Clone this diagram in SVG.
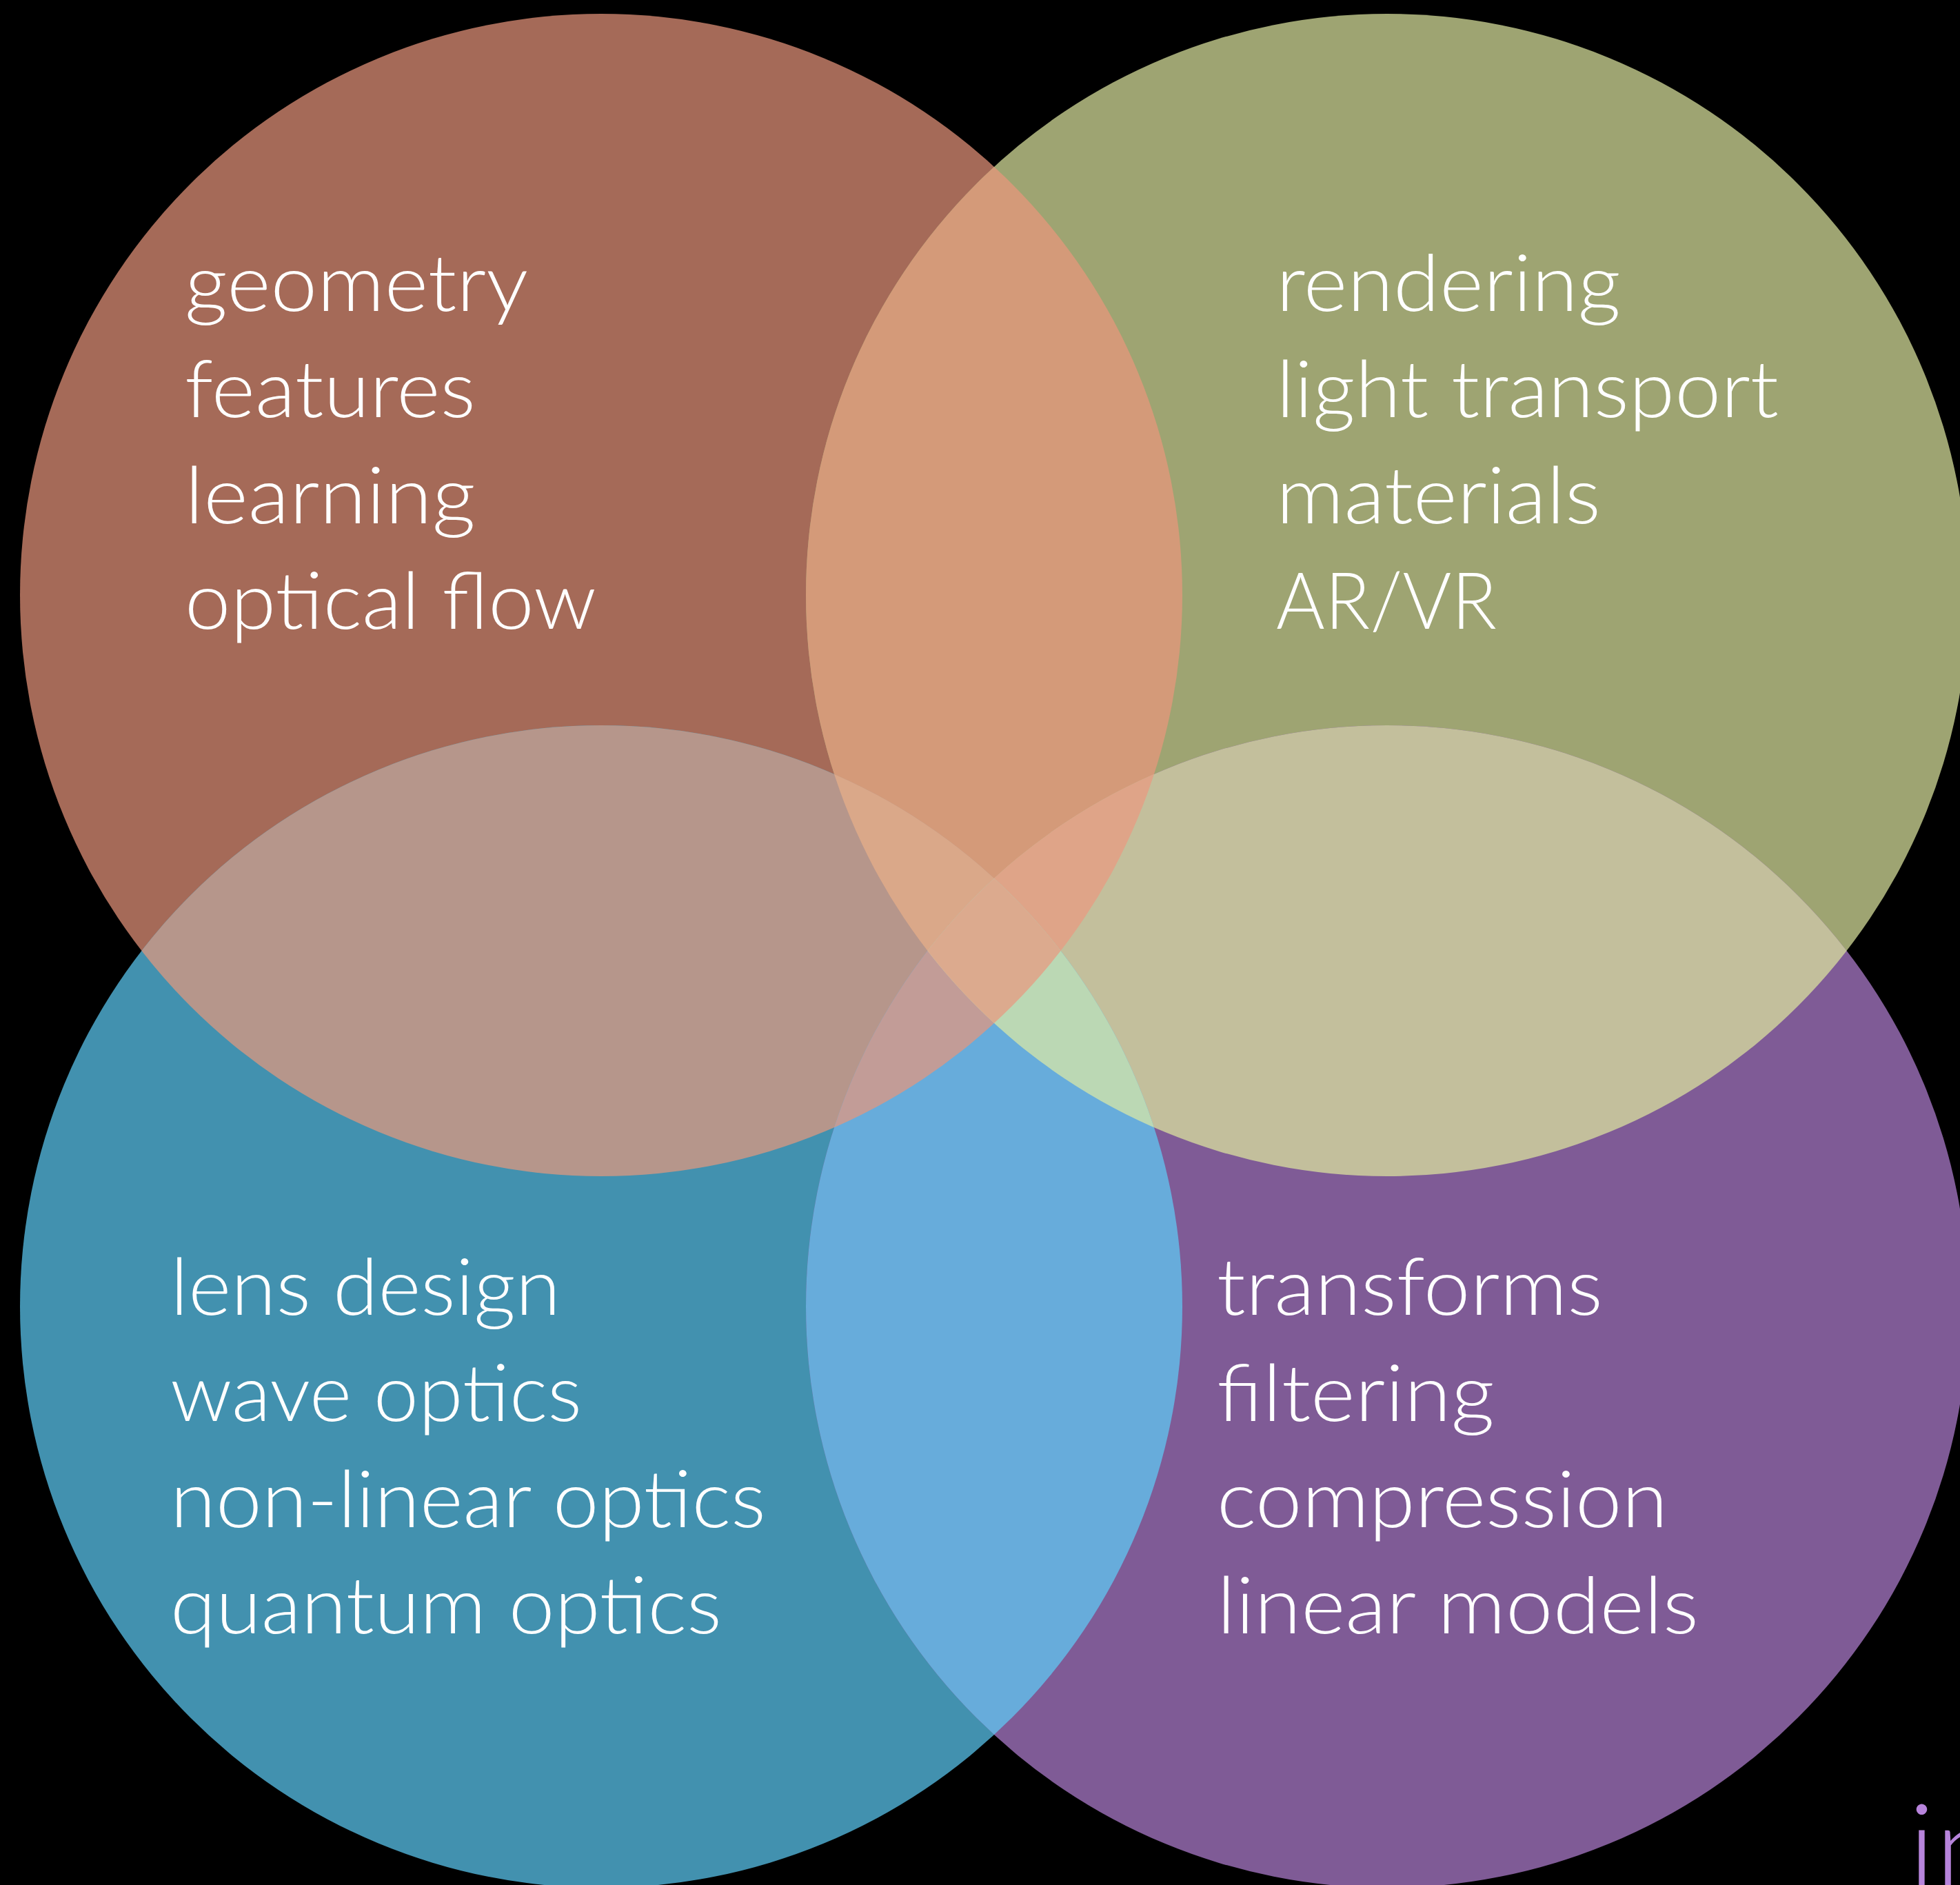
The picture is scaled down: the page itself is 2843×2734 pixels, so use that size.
<svg xmlns="http://www.w3.org/2000/svg" width="2843" height="2734" viewBox="0 0 2843 2734">
<style>
.lbl{font-family:"Lato","Open Sans","Liberation Sans",sans-serif;font-weight:300;font-size:115px;fill:#FFFFFF}
.tag{font-family:"Lato","Open Sans","Liberation Sans",sans-serif;font-weight:300;font-size:175px;fill:#B784DB}
</style>
<defs>
<clipPath id="clipTL"><circle cx="872" cy="863" r="843"/></clipPath>
<clipPath id="clipTR"><circle cx="2012" cy="863" r="843"/></clipPath>
<clipPath id="clipBL"><circle cx="872" cy="1895" r="843"/></clipPath>
<clipPath id="clipBR"><circle cx="2012" cy="1895" r="843"/></clipPath>
</defs>
<rect x="0" y="0" width="2843" height="2734" fill="#000000"/>
<g id="set-computer-vision"><circle cx="872" cy="863" r="843" fill="#A56A58"/></g>
<g id="set-graphics"><circle cx="2012" cy="863" r="843" fill="#9EA472"/></g>
<g id="set-optics"><circle cx="872" cy="1895" r="843" fill="#4291AF"/></g>
<g id="set-signal-processing"><circle cx="2012" cy="1895" r="843" fill="#7F5B96"/></g>
<g id="overlaps">
<g clip-path="url(#clipTL)"><circle cx="2012" cy="863" r="843" fill="#D49A79"/></g>
<g clip-path="url(#clipTL)"><circle cx="872" cy="1895" r="843" fill="#B6968B"/></g>
<g clip-path="url(#clipTR)"><circle cx="2012" cy="1895" r="843" fill="#C3BF9C"/></g>
<g clip-path="url(#clipBL)"><circle cx="2012" cy="1895" r="843" fill="#67ACDB"/></g>
<g clip-path="url(#clipTL)"><g clip-path="url(#clipTR)"><circle cx="872" cy="1895" r="843" fill="#DAA889"/></g></g>
<g clip-path="url(#clipTL)"><g clip-path="url(#clipTR)"><circle cx="2012" cy="1895" r="843" fill="#DFA488"/></g></g>
<g clip-path="url(#clipTL)"><g clip-path="url(#clipBL)"><circle cx="2012" cy="1895" r="843" fill="#C29C97"/></g></g>
<g clip-path="url(#clipTR)"><g clip-path="url(#clipBL)"><circle cx="2012" cy="1895" r="843" fill="#BBD8B4"/></g></g>
<g clip-path="url(#clipTL)"><g clip-path="url(#clipTR)"><g clip-path="url(#clipBL)"><circle cx="2012" cy="1895" r="843" fill="#DCAA8E"/></g></g></g>
</g>
<g id="labels-computer-vision">
<text class="lbl" x="268" y="451" textLength="498" lengthAdjust="spacingAndGlyphs">geometry</text>
<text class="lbl" x="268" y="605" textLength="422" lengthAdjust="spacingAndGlyphs">features</text>
<text class="lbl" x="268" y="759" textLength="422" lengthAdjust="spacingAndGlyphs">learning</text>
<text class="lbl" x="268" y="912" textLength="597" lengthAdjust="spacingAndGlyphs">optical flow</text>
</g>
<g id="labels-graphics">
<text class="lbl" x="1851" y="451" textLength="500" lengthAdjust="spacingAndGlyphs">rendering</text>
<text class="lbl" x="1851" y="605" textLength="729" lengthAdjust="spacingAndGlyphs">light transport</text>
<text class="lbl" x="1851" y="759" textLength="471" lengthAdjust="spacingAndGlyphs">materials</text>
<text class="lbl" x="1851" y="912" textLength="320" lengthAdjust="spacingAndGlyphs">AR/VR</text>
</g>
<g id="labels-optics">
<text class="lbl" x="247" y="1907" textLength="566" lengthAdjust="spacingAndGlyphs">lens design</text>
<text class="lbl" x="247" y="2061" textLength="597" lengthAdjust="spacingAndGlyphs">wave optics</text>
<text class="lbl" x="247" y="2215" textLength="864" lengthAdjust="spacingAndGlyphs">non-linear optics</text>
<text class="lbl" x="247" y="2369" textLength="800" lengthAdjust="spacingAndGlyphs">quantum optics</text>
</g>
<g id="labels-signal-processing">
<text class="lbl" x="1765" y="1907" textLength="560" lengthAdjust="spacingAndGlyphs">transforms</text>
<text class="lbl" x="1765" y="2061" textLength="403" lengthAdjust="spacingAndGlyphs">filtering</text>
<text class="lbl" x="1765" y="2215" textLength="654" lengthAdjust="spacingAndGlyphs">compression</text>
<text class="lbl" x="1765" y="2369" textLength="699" lengthAdjust="spacingAndGlyphs">linear models</text>
</g>
<g id="corner-tag">
<text class="tag" x="2768" y="2742">in</text>
</g>
</svg>
